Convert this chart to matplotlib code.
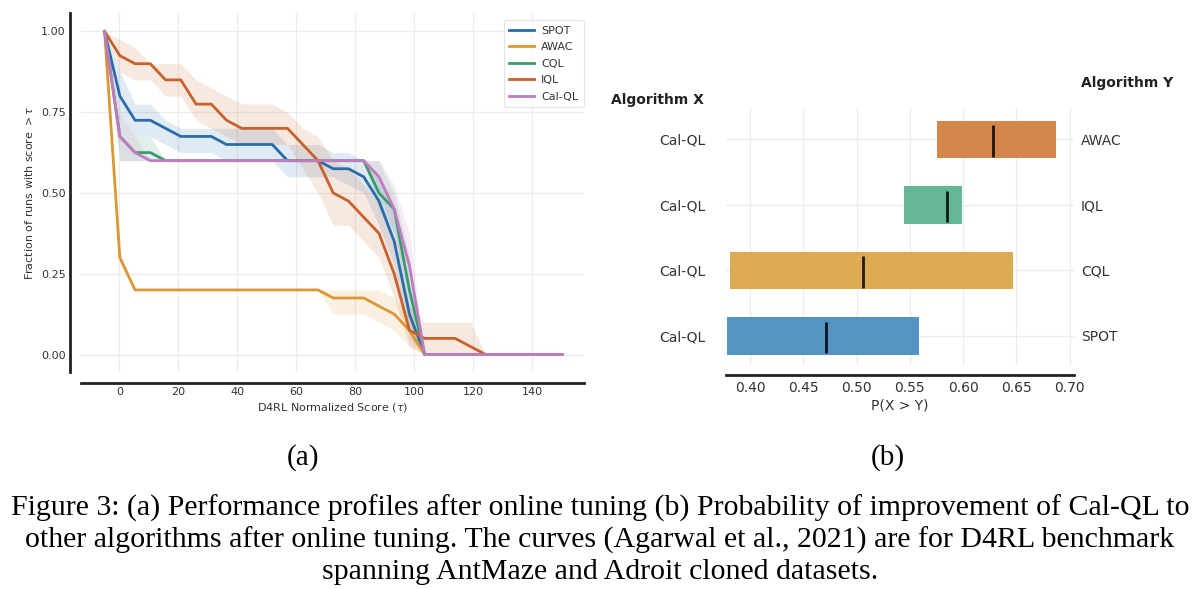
import matplotlib
matplotlib.use("Agg")
import matplotlib.pyplot as plt
import numpy as np

# ---------------- data: performance profiles (a) ----------------
tau = [-5.0, 0.17, 5.33, 10.5, 15.67, 20.83, 26.0, 31.17, 36.33, 41.5, 46.67,
       51.83, 57.0, 62.17, 67.33, 72.5, 77.67, 82.83, 88.0, 93.17, 98.33,
       103.5, 108.67, 113.83, 119.0, 124.17, 129.33, 134.5, 139.67, 144.83, 150.0]

spot_mean = [1.0, 0.8, 0.725, 0.725, 0.7, 0.675, 0.675, 0.675, 0.65, 0.65, 0.65,
             0.65, 0.6, 0.6, 0.6, 0.575, 0.575, 0.55, 0.475, 0.35, 0.125,
             0, 0, 0, 0, 0, 0, 0, 0, 0, 0]
spot_lo = [1.0, 0.75, 0.675, 0.675, 0.65, 0.625, 0.625, 0.625, 0.6, 0.6, 0.6,
           0.6, 0.55, 0.55, 0.55, 0.55, 0.525, 0.5, 0.4, 0.275, 0.05,
           0, 0, 0, 0, 0, 0, 0, 0, 0, 0]
spot_hi = [1.0, 0.875, 0.775, 0.775, 0.725, 0.7, 0.7, 0.7, 0.7, 0.7, 0.7,
           0.7, 0.65, 0.65, 0.65, 0.625, 0.625, 0.6, 0.55, 0.45, 0.2,
           0, 0, 0, 0, 0, 0, 0, 0, 0, 0]

awac_mean = [1.0, 0.3, 0.2, 0.2, 0.2, 0.2, 0.2, 0.2, 0.2, 0.2, 0.2,
             0.2, 0.2, 0.2, 0.2, 0.175, 0.175, 0.175, 0.15, 0.125, 0.075,
             0, 0, 0, 0, 0, 0, 0, 0, 0, 0]
awac_lo = [1.0, 0.28, 0.2, 0.2, 0.2, 0.2, 0.2, 0.2, 0.2, 0.2, 0.2,
           0.2, 0.2, 0.2, 0.2, 0.125, 0.125, 0.125, 0.1, 0.075, 0.025,
           0, 0, 0, 0, 0, 0, 0, 0, 0, 0]
awac_hi = [1.0, 0.32, 0.2, 0.2, 0.2, 0.2, 0.2, 0.2, 0.2, 0.2, 0.2,
           0.2, 0.2, 0.2, 0.2, 0.2, 0.2, 0.2, 0.2, 0.175, 0.125,
           0, 0, 0, 0, 0, 0, 0, 0, 0, 0]

cql_mean = [1.0, 0.675, 0.625, 0.625, 0.6, 0.6, 0.6, 0.6, 0.6, 0.6, 0.6,
            0.6, 0.6, 0.6, 0.6, 0.6, 0.6, 0.6, 0.5, 0.45, 0.2,
            0, 0, 0, 0, 0, 0, 0, 0, 0, 0]
cql_lo = [1.0, 0.6, 0.6, 0.6, 0.6, 0.6, 0.6, 0.6, 0.6, 0.6, 0.6,
          0.6, 0.6, 0.6, 0.6, 0.6, 0.6, 0.6, 0.45, 0.375, 0.1,
          0, 0, 0, 0, 0, 0, 0, 0, 0, 0]
cql_hi = [1.0, 0.75, 0.675, 0.675, 0.6, 0.6, 0.6, 0.6, 0.6, 0.6, 0.6,
          0.6, 0.6, 0.6, 0.6, 0.6, 0.6, 0.6, 0.6, 0.5, 0.3,
          0, 0, 0, 0, 0, 0, 0, 0, 0, 0]

iql_mean = [1.0, 0.925, 0.9, 0.9, 0.85, 0.85, 0.775, 0.775, 0.725, 0.7, 0.7,
            0.7, 0.7, 0.65, 0.6, 0.5, 0.475, 0.425, 0.375, 0.25, 0.075,
            0.05, 0.05, 0.05, 0.025, 0, 0, 0, 0, 0, 0]
iql_lo = [1.0, 0.875, 0.85, 0.85, 0.8, 0.8, 0.725, 0.7, 0.675, 0.65, 0.65,
          0.65, 0.65, 0.575, 0.5, 0.4, 0.4, 0.35, 0.3, 0.175, 0.025,
          0, 0, 0, 0, 0, 0, 0, 0, 0, 0]
iql_hi = [1.0, 0.975, 0.95, 0.9, 0.9, 0.9, 0.85, 0.825, 0.8, 0.775, 0.775,
          0.775, 0.75, 0.7, 0.675, 0.6, 0.575, 0.525, 0.475, 0.35, 0.15,
          0.1, 0.1, 0.1, 0.1, 0, 0, 0, 0, 0, 0]

calql_mean = [1.0, 0.675, 0.625, 0.6, 0.6, 0.6, 0.6, 0.6, 0.6, 0.6, 0.6,
              0.6, 0.6, 0.6, 0.6, 0.6, 0.6, 0.6, 0.55, 0.45, 0.275,
              0, 0, 0, 0, 0, 0, 0, 0, 0, 0]
calql_lo = [1.0, 0.6, 0.6, 0.6, 0.6, 0.6, 0.6, 0.6, 0.6, 0.6, 0.6,
            0.6, 0.6, 0.6, 0.6, 0.6, 0.6, 0.6, 0.5, 0.375, 0.175,
            0, 0, 0, 0, 0, 0, 0, 0, 0, 0]
calql_hi = [1.0, 0.75, 0.675, 0.6, 0.6, 0.6, 0.6, 0.6, 0.6, 0.6, 0.6,
            0.6, 0.6, 0.6, 0.6, 0.6, 0.6, 0.6, 0.6, 0.525, 0.375,
            0, 0, 0, 0, 0, 0, 0, 0, 0, 0]

profile_names = ["SPOT", "AWAC", "CQL", "IQL", "Cal-QL"]
profile_colors = ["#2a6caa", "#dc9634", "#3a9a6e", "#c9612a", "#c07cc0"]

# ---------------- data: probability of improvement (b) ----------------
algo_y = ["SPOT", "CQL", "IQL", "AWAC"]
algo_x = ["Cal-QL", "Cal-QL", "Cal-QL", "Cal-QL"]
poi_lower = [0.3781, 0.3816, 0.5447, 0.5759]
poi_upper = [0.5584, 0.6463, 0.5991, 0.6869]
poi_median = [0.4716, 0.5063, 0.5844, 0.6281]
bar_colors = ["#5593c2", "#deab55", "#65b697", "#d4874d"]

# ---------------- figure ----------------
W, H = 1200, 589
fig = plt.figure(figsize=(W / 100, H / 100), dpi=100)
plt.rcParams['font.family'] = ['DejaVu Sans']

SPINE_C = "#222222"
GRID_C = "#ececec"

# ---- (a) performance profiles
ax1 = fig.add_axes([81 / W, 1 - 372 / H, (584 - 81) / W, (372 - 13) / H])
series = [(spot_mean, spot_lo, spot_hi), (awac_mean, awac_lo, awac_hi),
          (cql_mean, cql_lo, cql_hi), (iql_mean, iql_lo, iql_hi),
          (calql_mean, calql_lo, calql_hi)]
for name, col, (m, lo, hi) in zip(profile_names, profile_colors, series):
    ax1.plot(tau, m, color=col, lw=2.0, label=name, zorder=3)
    ax1.fill_between(tau, lo, hi, color=col, alpha=0.14, lw=0, zorder=2)

ax1.set_xlim(-13, 157.5)
ax1.set_ylim(-0.054, 1.057)
ax1.set_xticks(range(0, 141, 20))
ax1.set_yticks([0.0, 0.25, 0.5, 0.75, 1.0])
ax1.set_yticklabels(["0.00", "0.25", "0.50", "0.75", "1.00"])
ax1.grid(True, color=GRID_C, lw=0.9, zorder=0)
ax1.set_axisbelow(True)
for s in ["top", "right"]:
    ax1.spines[s].set_visible(False)
for s in ["left", "bottom"]:
    ax1.spines[s].set_position(("outward", 8))
    ax1.spines[s].set_linewidth(2.0)
    ax1.spines[s].set_color(SPINE_C)
ax1.tick_params(length=0, labelsize=8, pad=3, colors="#333333")
ax1.set_xlabel(r"D4RL Normalized Score ($\tau$)", fontsize=8, color="#333333", labelpad=3)
ax1.set_ylabel(r"Fraction of runs with score $> \tau$", fontsize=8, color="#333333", labelpad=4)
leg = ax1.legend(loc="upper right", bbox_to_anchor=(1.0, 0.98), fontsize=8,
                 frameon=True, handlelength=2.2, handletextpad=0.7,
                 labelspacing=0.58, borderpad=0.5, borderaxespad=0.0, fancybox=True)
leg.get_frame().set_edgecolor("#dddddd")
leg.get_frame().set_linewidth(0.8)
for t in leg.get_texts():
    t.set_color("#333333")

# ---- (b) probability of improvement
ax2 = fig.add_axes([726 / W, 1 - 366 / H, (1074 - 726) / W, (366 - 108) / H])
h = 0.57
ypos = np.arange(len(algo_y))
widths = np.array(poi_upper) - np.array(poi_lower)
ax2.barh(ypos, widths, left=poi_lower, height=h, color=bar_colors, zorder=2)
ax2.vlines(poi_median, ypos - 7.5 * h / 16, ypos + 6 * h / 16, color="k",
           alpha=0.85, lw=2.0, zorder=3)
ax2.set_xlim(0.3775, 0.704)
ax2.set_ylim(-0.46, 3.48)
ax2.set_xticks([0.40, 0.45, 0.50, 0.55, 0.60, 0.65, 0.70])
ax2.set_xticklabels(["0.40", "0.45", "0.50", "0.55", "0.60", "0.65", "0.70"])
ax2.set_yticks(ypos)
ax2.set_yticklabels(algo_x)
ax2.grid(True, color=GRID_C, lw=0.9, zorder=0)
ax2.set_axisbelow(True)
for s in ["top", "right", "left"]:
    ax2.spines[s].set_visible(False)
ax2.spines["bottom"].set_position(("outward", 6.5))
ax2.spines["bottom"].set_linewidth(2.0)
ax2.spines["bottom"].set_color(SPINE_C)
ax2.tick_params(axis="x", length=0, labelsize=10, pad=4, colors="#333333")
ax2.tick_params(axis="y", length=0, labelsize=10, pad=15, colors="#333333")
ax2.set_xlabel("P(X > Y)", fontsize=10, color="#333333", labelpad=3)

ax3 = ax2.twinx()
ax3.set_ylim(ax2.get_ylim())
ax3.set_yticks(ypos)
ax3.set_yticklabels(algo_y)
for s in ["top", "right", "left", "bottom"]:
    ax3.spines[s].set_visible(False)
ax3.tick_params(axis="y", length=0, labelsize=10, pad=5, colors="#333333")

fig.text(611 / W, 1 - 100 / H, "Algorithm X", fontsize=10, fontweight="bold",
         ha="left", va="center", color="#222222")
fig.text(1081 / W, 1 - 83 / H, "Algorithm Y", fontsize=10, fontweight="bold",
         ha="left", va="center", color="#222222")

# ---- sub-captions and caption
serif = ["Liberation Serif", "DejaVu Serif"]
fig.text(303 / W, 1 - 458 / H, "(a)", fontsize=21, family=serif, ha="center", va="center")
fig.text(888 / W, 1 - 458 / H, "(b)", fontsize=21, family=serif, ha="center", va="center")
caption = ["Figure 3: (a) Performance profiles after online tuning (b) Probability of improvement of Cal-QL to",
           "other algorithms after online tuning. The curves (Agarwal et al., 2021) are for D4RL benchmark",
           "spanning AntMaze and Adroit cloned datasets."]
for i, line in enumerate(caption):
    fig.text(0.5, 1 - (508 + 32 * i) / H, line, fontsize=21.5, family=serif,
             ha="center", va="center")

fig.savefig("out.png", dpi=100)
